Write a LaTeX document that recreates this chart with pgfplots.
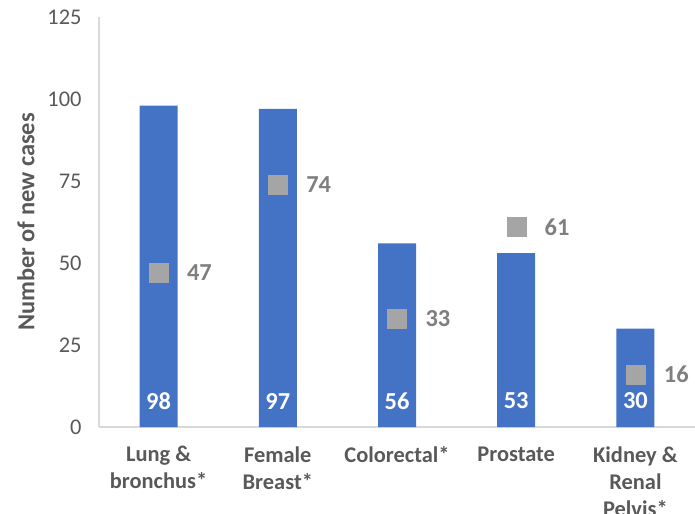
\documentclass[border=0pt]{standalone}
\usepackage{fontspec}
\setmainfont{Carlito}
\usepackage{pgfplots}
\pgfplotsset{compat=1.18}
\definecolor{barblue}{HTML}{4472C4}
\definecolor{mkgray}{HTML}{A5A5A5}
\definecolor{txtgray}{HTML}{595959}
\definecolor{lblgray}{HTML}{7F7F7F}
\definecolor{axgray}{HTML}{D9D9D9}
\begin{document}
\begin{tikzpicture}[x=1bp,y=1bp]
\begin{axis}[
  at={(99bp,87bp)}, anchor=south west,
  scale only axis, width=596bp, height=410bp,
  xmin=-0.5, xmax=4.5, ymin=0, ymax=125,
  ytick={0,25,50,75,100,125},
  xtick={0,1,2,3,4},
  xticklabels={{Lung \&\\bronchus*},{Female\\Breast*},{Colorectal*},{Prostate},{Kidney \&\\Renal\\Pelvis*}},
  axis x line*=bottom, axis y line*=left,
  axis line style={axgray, line width=1.2bp, -},
  major tick length=0pt,
  /pgf/number format/assume math mode=true,
  yticklabel style={font=\fontsize{22.5}{24}\selectfont, text=txtgray, xshift=-14bp},
  xticklabel style={font=\fontsize{22.5}{27}\selectfont\bfseries, text=txtgray, align=center, anchor=north, yshift=-16bp},
  ylabel={Number of new cases},
  ylabel style={font=\fontsize{24.5}{26}\selectfont\bfseries, text=txtgray},
  ylabel shift=6bp,
  clip=false,
]
\addplot[ybar, bar width=38bp, fill=barblue, draw=none, bar shift=0pt]
  coordinates {(0,98) (1,97) (2,56) (3,53) (4,30)};
\addplot[draw=none, point meta=explicit,
  nodes near coords={\pgfmathprintnumber{\pgfplotspointmeta}},
  nodes near coords style={font=\fontsize{24.5}{26}\selectfont\bfseries, text=white, anchor=center, yshift=26bp}]
  coordinates {(0,0) [98] (1,0) [97] (2,0) [56] (3,0) [53] (4,0) [30]};
\addplot[only marks, mark=square*, mark size=9.5bp, color=mkgray, mark options={fill=mkgray, draw=mkgray},
  nodes near coords,
  nodes near coords style={font=\fontsize{24.5}{26}\selectfont\bfseries, text=lblgray, anchor=west, xshift=25bp}]
  coordinates {(0,47) (1,74) (2,33) (3,61) (4,16)};
\end{axis}
\pgfresetboundingbox
\path[use as bounding box] (0,0) rectangle (695bp,514bp);
\end{tikzpicture}
\end{document}
